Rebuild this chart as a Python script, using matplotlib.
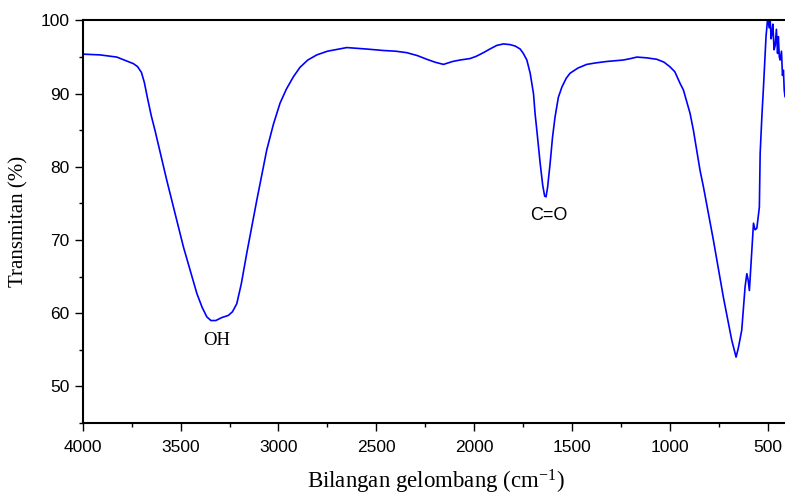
import matplotlib
matplotlib.use("Agg")
import matplotlib.pyplot as plt
from matplotlib.ticker import MultipleLocator

# FTIR spectrum
wavenumber = [
    4000, 3998, 3912, 3826, 3741, 3720, 3700, 3685, 3670, 3650, 3631, 3571,
    3486, 3417, 3390, 3366, 3345, 3320, 3290, 3256, 3235, 3213, 3190, 3162,
    3111, 3060, 3026, 2992, 2960, 2924, 2890, 2850, 2804, 2750, 2651, 2550,
    2464, 2400, 2344, 2290, 2242, 2200, 2157, 2110, 2072, 2021, 1990, 1953,
    1920, 1884, 1850, 1816, 1790, 1765, 1749, 1731, 1714, 1697, 1689, 1680,
    1663, 1650, 1640, 1633, 1625, 1612, 1600, 1587, 1570, 1552, 1530, 1510,
    1470, 1425, 1380, 1322, 1280, 1238, 1200, 1169, 1120, 1067, 1030, 1001,
    975, 948, 931, 897, 880, 846, 829, 778, 727, 700, 684, 670, 662, 650,
    633, 616, 607, 600, 594, 585, 573, 565, 556, 543, 539, 530, 522, 509,
    500, 493, 488, 483, 479, 474, 468, 462, 456, 450, 446, 441, 437, 430,
    425, 420, 416, 412,
]
transmittance = [
    0.0, 95.4, 95.3, 95.0, 94.1, 93.7, 92.9, 91.5, 89.5, 87.0, 85.0, 78.2,
    69.1, 62.7, 60.8, 59.5, 59.0, 59.0, 59.4, 59.7, 60.2, 61.3, 64.0, 68.2,
    75.4, 82.3, 85.8, 88.7, 90.6, 92.3, 93.6, 94.6, 95.3, 95.8, 96.3, 96.1,
    95.9, 95.8, 95.6, 95.2, 94.7, 94.3, 94.0, 94.4, 94.6, 94.8, 95.1, 95.6,
    96.1, 96.6, 96.8, 96.7, 96.5, 96.1, 95.5, 94.6, 92.8, 90.0, 87.3, 85.0,
    80.5, 77.5, 76.0, 75.9, 77.2, 80.5, 84.0, 86.8, 89.5, 90.9, 92.1, 92.8,
    93.5, 94.0, 94.2, 94.4, 94.5, 94.6, 94.8, 95.0, 94.9, 94.7, 94.3, 93.7,
    93.0, 91.4, 90.5, 87.3, 85.0, 79.5, 77.3, 70.0, 62.2, 58.5, 56.3, 54.8, 54.0, 55.3,
    57.7, 63.6, 65.4, 64.5, 63.1, 67.0, 72.3, 71.4, 71.6, 74.5, 81.8, 87.0, 90.9, 97.8,
    100.5, 99.0, 100.3, 97.5, 98.2, 99.5, 96.0, 96.6, 98.8, 95.5, 97.8, 95.0, 94.6, 95.8,
    92.5, 93.2, 90.5, 89.6,
]

plt.rcParams["font.family"] = ["Liberation Sans", "DejaVu Sans"]
plt.rcParams["mathtext.fontset"] = "custom"
plt.rcParams["mathtext.rm"] = "Liberation Serif"
plt.rcParams["mathtext.it"] = "Liberation Serif:italic"

fig = plt.figure(figsize=(7.85, 4.95), dpi=100)
ax = fig.add_axes([0.1054, 0.1455, 0.8976, 0.8131])

ax.plot(wavenumber, transmittance, color="#0000FF", linewidth=1.2)

ax.set_xlim(4000, 400)
ax.set_ylim(45, 100)
ax.xaxis.set_major_locator(MultipleLocator(500))
ax.xaxis.set_minor_locator(MultipleLocator(250))
ax.yaxis.set_major_locator(MultipleLocator(10))
ax.yaxis.set_minor_locator(MultipleLocator(5))
ax.tick_params(which="both", direction="out", width=1.0, labelsize=12.5, top=False, right=False)
ax.tick_params(which="major", length=5.5)
ax.tick_params(which="minor", length=3)
ax.tick_params(axis="x", which="major", pad=6.5)
ax.tick_params(axis="y", which="major", pad=4)
for side in ("left", "bottom", "top"):
    ax.spines[side].set_linewidth(1.5)
ax.spines["right"].set_visible(False)

ax.text(3313, 56.3, "OH", family="Liberation Serif", fontsize=13.5, ha="center", va="center")
ax.text(1617, 73.3, "C=O", fontsize=13, ha="center", va="center")

fig.text(18.5 / 785, 0.5535, "Transmitan (%)", family="Liberation Serif", fontsize=15,
         rotation=90, ha="center", va="center")
fig.text(435.5 / 785, 7 / 495, "Bilangan gelombang (cm$^{-1}$)", family="Liberation Serif",
         fontsize=16.5, ha="center", va="baseline")

fig.savefig("out.png", dpi=100)
